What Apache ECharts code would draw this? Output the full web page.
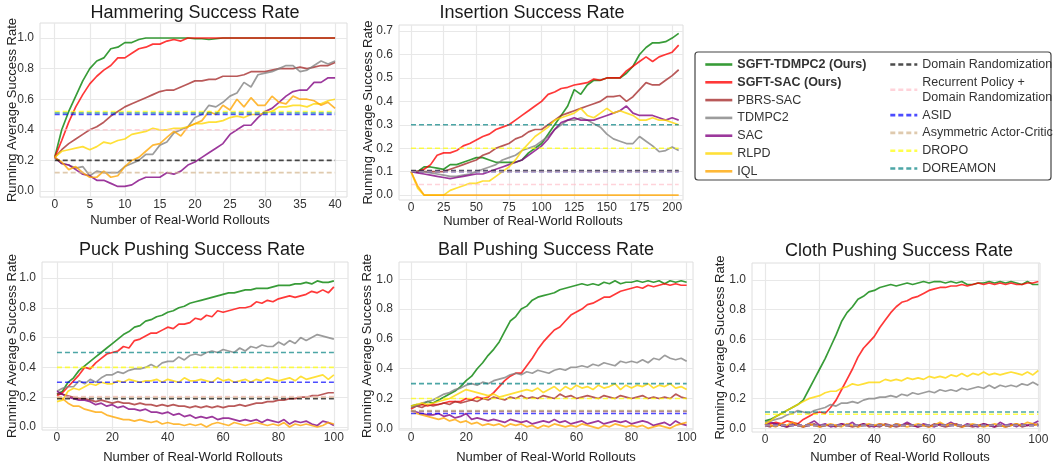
<!DOCTYPE html>
<html>
<head>
<meta charset="utf-8">
<script src="https://cdn.jsdelivr.net/npm/echarts@6/dist/echarts.min.js"></script>
<style>
html, body { margin: 0; padding: 0; background: #fff; }
#main { width: 1053px; height: 465px; }
</style>
</head>
<body>
<div id="main"></div>
<script>
// legend names
const methods = ['SGFT-TDMPC2 (Ours)', 'SGFT-SAC (Ours)', 'PBRS-SAC', 'TDMPC2', 'SAC', 'RLPD', 'IQL']
const baselines = ['Domain Randomization', 'Recurrent Policy + Domain Randomization', 'ASID', 'Asymmetric Actor-Critic', 'DROPO', 'DOREAMON']
const methodColors = ['#008000', '#ff0000', '#a52a2a', '#808080', '#800080', '#ffd700', '#ffa500']
const baseColors = ['#000000', '#ffc0cb', '#0000ff', '#d2b48c', '#ffff00', '#008080']

// tick labels
const hamXTicks = [0, 5, 10, 15, 20, 25, 30, 35, 40]
const insXTicks = [0, 25, 50, 75, 100, 125, 150, 175, 200]
const pushXTicks = [0, 20, 40, 60, 80, 100]
const rateTicks = [0, 0.2, 0.4, 0.6, 0.8, 1.0]
const insYTicks = [0, 0.1, 0.2, 0.3, 0.4, 0.5, 0.6, 0.7]

// ---- Hammering ----
const hamX = [0, 1, 2, 3, 4, 5, 6, 7, 8, 9, 10, 11, 12, 13, 14, 15, 16, 17, 18, 19, 20,
  21, 22, 23, 24, 25, 26, 27, 28, 29, 30, 31, 32, 33, 34, 35, 36, 37, 38, 39, 40]
const hamTdmpcOurs = [0.22, 0.40, 0.52, 0.62, 0.72, 0.80, 0.85, 0.87, 0.93, 0.94,
  0.97, 0.97, 0.99, 1.0, 1.0, 1.0, 1.0, 1.0, 1.0, 1.0,
  0.995, 0.995, 0.99, 0.995, 1.0, 1.0, 1.0, 1.0, 1.0, 1.0,
  1.0, 1.0, 1.0, 1.0, 1.0, 1.0, 1.0, 1.0, 1.0, 1.0, 1.0]
const hamSacOurs = [0.22, 0.33, 0.45, 0.55, 0.63, 0.70, 0.75, 0.79, 0.82, 0.87,
  0.87, 0.90, 0.93, 0.94, 0.96, 0.96, 0.98, 0.99, 0.98, 1.0,
  1.0, 1.0, 1.0, 1.0, 1.0, 1.0, 1.0, 1.0, 1.0, 1.0,
  1.0, 1.0, 1.0, 1.0, 1.0, 1.0, 1.0, 1.0, 1.0, 1.0, 1.0]
const hamPbrs = [0.22, 0.27, 0.31, 0.34, 0.37, 0.40, 0.42, 0.45, 0.49, 0.52,
  0.55, 0.57, 0.59, 0.61, 0.63, 0.65, 0.66, 0.66, 0.68, 0.70,
  0.72, 0.72, 0.73, 0.73, 0.75, 0.75, 0.75, 0.76, 0.78, 0.78,
  0.78, 0.79, 0.80, 0.80, 0.80, 0.81, 0.80, 0.81, 0.82, 0.82, 0.84]
const hamTdmpc2 = [0.22, 0.18, 0.17, 0.15, 0.16, 0.10, 0.13, 0.12, 0.12, 0.12,
  0.16, 0.18, 0.20, 0.24, 0.24, 0.30, 0.32, 0.38, 0.40, 0.42,
  0.48, 0.50, 0.56, 0.55, 0.58, 0.62, 0.64, 0.71, 0.68, 0.76,
  0.77, 0.78, 0.80, 0.82, 0.82, 0.78, 0.79, 0.82, 0.85, 0.83, 0.85]
const hamSac = [0.22, 0.18, 0.17, 0.14, 0.11, 0.10, 0.07, 0.07, 0.05, 0.03,
  0.03, 0.04, 0.07, 0.09, 0.09, 0.09, 0.12, 0.11, 0.13, 0.17,
  0.19, 0.22, 0.25, 0.28, 0.31, 0.37, 0.40, 0.43, 0.43, 0.48,
  0.52, 0.54, 0.58, 0.62, 0.65, 0.66, 0.66, 0.71, 0.71, 0.74, 0.74]
const hamRlpd = [0.22, 0.26, 0.27, 0.28, 0.29, 0.27, 0.29, 0.32, 0.31, 0.33,
  0.34, 0.37, 0.38, 0.39, 0.41, 0.40, 0.40, 0.41, 0.41, 0.42,
  0.44, 0.44, 0.45, 0.45, 0.46, 0.48, 0.49, 0.48, 0.50, 0.50,
  0.51, 0.52, 0.55, 0.55, 0.56, 0.56, 0.55, 0.57, 0.57, 0.59, 0.60]
const hamIql = [0.22, 0.19, 0.14, 0.16, 0.12, 0.09, 0.09, 0.13, 0.09, 0.10,
  0.16, 0.20, 0.22, 0.26, 0.30, 0.31, 0.35, 0.39, 0.36, 0.42,
  0.44, 0.46, 0.52, 0.50, 0.56, 0.53, 0.60, 0.55, 0.61, 0.56,
  0.56, 0.62, 0.58, 0.57, 0.62, 0.60, 0.60, 0.59, 0.56, 0.58, 0.54]
const hamBase = [0.2, 0.4, 0.5, 0.12, 0.52, 0.51]

// ---- Insertion ----
const insX = [0, 5, 10, 15, 20, 25, 30, 35, 40, 45, 50, 55, 60, 65, 70, 75, 80, 85, 90, 95,
  100, 105, 110, 115, 120, 125, 130, 135, 140, 145, 150, 155, 160, 165, 170, 175, 180, 185, 190, 195, 200, 205]
const insTdmpcOurs = [0.10, 0.10, 0.12, 0.12, 0.115, 0.11, 0.13, 0.13, 0.14, 0.15,
  0.16, 0.16, 0.15, 0.14, 0.14, 0.14, 0.14, 0.15, 0.18, 0.20,
  0.22, 0.26, 0.30, 0.34, 0.38, 0.45, 0.43, 0.47, 0.49, 0.49,
  0.50, 0.50, 0.50, 0.52, 0.55, 0.60, 0.63, 0.65, 0.65, 0.655, 0.67, 0.69]
const insSacOurs = [0.10, 0.10, 0.11, 0.13, 0.17, 0.18, 0.18, 0.19, 0.21, 0.22,
  0.235, 0.25, 0.26, 0.28, 0.29, 0.30, 0.32, 0.34, 0.36, 0.38,
  0.40, 0.43, 0.44, 0.455, 0.46, 0.47, 0.475, 0.48, 0.495, 0.49,
  0.50, 0.50, 0.50, 0.53, 0.55, 0.57, 0.59, 0.57, 0.59, 0.60, 0.61, 0.64]
const insPbrs = [0.10, 0.10, 0.10, 0.10, 0.10, 0.10, 0.11, 0.12, 0.13, 0.14,
  0.15, 0.17, 0.18, 0.20, 0.21, 0.22, 0.24, 0.25, 0.27, 0.28,
  0.28, 0.30, 0.32, 0.34, 0.35, 0.36, 0.37, 0.38, 0.39, 0.40,
  0.42, 0.42, 0.425, 0.40, 0.42, 0.45, 0.48, 0.47, 0.47, 0.49, 0.51, 0.535]
const insTdmpc2 = [0.10, 0.10, 0.10, 0.095, 0.09, 0.085, 0.08, 0.08, 0.085, 0.09,
  0.10, 0.11, 0.12, 0.13, 0.15, 0.16, 0.17, 0.19, 0.20, 0.21,
  0.23, 0.25, 0.28, 0.30, 0.32, 0.32, 0.33, 0.32, 0.305, 0.29,
  0.26, 0.24, 0.23, 0.22, 0.22, 0.25, 0.23, 0.21, 0.185, 0.19, 0.205, 0.19]
const insSac = [0.10, 0.095, 0.09, 0.085, 0.08, 0.075, 0.07, 0.075, 0.08, 0.085,
  0.09, 0.09, 0.10, 0.11, 0.12, 0.13, 0.14, 0.15, 0.17, 0.19,
  0.21, 0.24, 0.28, 0.31, 0.32, 0.33, 0.32, 0.32, 0.32, 0.33,
  0.34, 0.35, 0.36, 0.38, 0.35, 0.34, 0.34, 0.34, 0.33, 0.32, 0.33, 0.32]
const insRlpd = [0.10, 0.03, 0, 0, 0, 0, 0.02, 0.03, 0.04, 0.05,
  0.05, 0.06, 0.06, 0.08, 0.10, 0.12, 0.15, 0.19, 0.22, 0.25,
  0.27, 0.29, 0.32, 0.33, 0.34, 0.35, 0.37, 0.34, 0.33, 0.35,
  0.37, 0.35, 0.36, 0.35, 0.34, 0.32, 0.32, 0.33, 0.32, 0.32, 0.31, 0.30]
const insIql = [0.10, 0.04, 0, 0, 0, 0, 0, 0, 0, 0,
  0, 0, 0, 0, 0, 0, 0, 0, 0, 0,
  0, 0, 0, 0, 0, 0, 0, 0, 0, 0,
  0, 0, 0, 0, 0, 0, 0, 0, 0, 0, 0, 0]
const insBase = [0.105, 0.045, 0.10, 0.10, 0.20, 0.30]

// ---- Puck / Ball / Cloth share the rollout grid ----
const pushX = [0, 2, 4, 6, 8, 10, 12, 14, 16, 18, 20, 22, 24, 26, 28, 30, 32, 34, 36, 38, 40,
  42, 44, 46, 48, 50, 52, 54, 56, 58, 60, 62, 64, 66, 68, 70, 72, 74, 76, 78, 80,
  82, 84, 86, 88, 90, 92, 94, 96, 98, 100]

const puckTdmpcOurs = [0.22, 0.24, 0.30, 0.33, 0.38, 0.41, 0.44, 0.47, 0.50, 0.53,
  0.56, 0.59, 0.62, 0.64, 0.67, 0.68, 0.71, 0.72, 0.74, 0.75,
  0.77, 0.78, 0.80, 0.81, 0.83, 0.84, 0.85, 0.86, 0.87, 0.88,
  0.89, 0.90, 0.90, 0.91, 0.92, 0.92, 0.93, 0.93, 0.93, 0.94,
  0.95, 0.95, 0.95, 0.96, 0.96, 0.97, 0.96, 0.98, 0.97, 0.97, 0.98]
const puckSacOurs = [0.21, 0.23, 0.27, 0.31, 0.35, 0.40, 0.39, 0.43, 0.46, 0.49,
  0.50, 0.51, 0.54, 0.53, 0.58, 0.59, 0.61, 0.63, 0.63, 0.65,
  0.67, 0.66, 0.69, 0.69, 0.70, 0.73, 0.72, 0.75, 0.74, 0.78,
  0.77, 0.78, 0.79, 0.80, 0.80, 0.81, 0.84, 0.83, 0.85, 0.84,
  0.86, 0.87, 0.88, 0.87, 0.88, 0.89, 0.91, 0.90, 0.92, 0.90, 0.94]
const puckPbrs = [0.22, 0.22, 0.21, 0.20, 0.19, 0.19, 0.18, 0.17, 0.18, 0.17,
  0.16, 0.17, 0.16, 0.16, 0.15, 0.16, 0.15, 0.15, 0.14, 0.15,
  0.14, 0.15, 0.14, 0.14, 0.13, 0.14, 0.13, 0.14, 0.13, 0.14,
  0.13, 0.14, 0.14, 0.15, 0.14, 0.15, 0.16, 0.16, 0.17, 0.17,
  0.18, 0.18, 0.19, 0.19, 0.20, 0.20, 0.21, 0.21, 0.22, 0.23, 0.23]
const puckTdmpc2 = [0.24, 0.26, 0.27, 0.27, 0.31, 0.29, 0.32, 0.30, 0.33, 0.35,
  0.35, 0.37, 0.36, 0.38, 0.39, 0.39, 0.40, 0.42, 0.40, 0.43,
  0.44, 0.44, 0.47, 0.45, 0.48, 0.49, 0.48, 0.50, 0.51, 0.50,
  0.52, 0.51, 0.50, 0.53, 0.51, 0.54, 0.53, 0.55, 0.54, 0.54,
  0.57, 0.55, 0.58, 0.56, 0.60, 0.58, 0.60, 0.62, 0.61, 0.60, 0.59]
const puckSac = [0.24, 0.22, 0.20, 0.19, 0.18, 0.18, 0.17, 0.15, 0.16, 0.14,
  0.15, 0.13, 0.14, 0.12, 0.12, 0.11, 0.12, 0.10, 0.10, 0.09,
  0.10, 0.08, 0.09, 0.07, 0.08, 0.06, 0.07, 0.06, 0.07, 0.05,
  0.06, 0.06, 0.05, 0.04, 0.05, 0.04, 0.05, 0.03, 0.05, 0.04,
  0.03, 0.05, 0.02, 0.04, 0.03, 0.04, 0.02, 0.01, 0.04, 0.03, 0.01]
const puckRlpd = [0.17, 0.18, 0.24, 0.26, 0.25, 0.27, 0.29, 0.28, 0.30, 0.29,
  0.29, 0.31, 0.30, 0.32, 0.31, 0.30, 0.31, 0.31, 0.32, 0.30,
  0.32, 0.31, 0.30, 0.33, 0.31, 0.31, 0.32, 0.31, 0.30, 0.33,
  0.31, 0.32, 0.30, 0.31, 0.32, 0.30, 0.32, 0.31, 0.33, 0.32,
  0.31, 0.32, 0.33, 0.31, 0.34, 0.32, 0.33, 0.34, 0.35, 0.32, 0.35]
const puckIql = [0.20, 0.19, 0.16, 0.14, 0.14, 0.12, 0.11, 0.10, 0.10, 0.08,
  0.07, 0.06, 0.05, 0.05, 0.04, 0.05, 0.04, 0.03, 0.04, 0.02,
  0.03, 0.02, 0.02, 0.01, 0.02, 0.01, 0.02, 0.00, 0.02, 0.03,
  0.02, 0.01, 0.03, 0.02, 0.01, 0.02, 0.03, 0.02, 0.01, 0.02,
  0.01, 0.03, 0.00, 0.02, 0.01, 0.02, 0.01, 0.00, 0.01, 0.03, 0.02]
const puckBase = [0.19, 0.205, 0.30, 0.20, 0.40, 0.50]

const ballTdmpcOurs = [0.15, 0.16, 0.16, 0.18, 0.17, 0.19, 0.21, 0.23, 0.25, 0.28,
  0.32, 0.35, 0.40, 0.44, 0.49, 0.53, 0.58, 0.65, 0.72, 0.75,
  0.80, 0.82, 0.86, 0.88, 0.89, 0.90, 0.91, 0.93, 0.94, 0.95,
  0.96, 0.97, 0.96, 0.97, 0.96, 0.98, 0.97, 0.99, 0.97, 0.98,
  0.98, 0.99, 0.98, 0.99, 0.98, 0.99, 0.97, 0.99, 0.98, 0.99, 0.98]
const ballSacOurs = [0.13, 0.15, 0.16, 0.15, 0.16, 0.16, 0.17, 0.18, 0.18, 0.18,
  0.20, 0.19, 0.21, 0.20, 0.21, 0.24, 0.28, 0.32, 0.35, 0.37,
  0.37, 0.42, 0.47, 0.53, 0.58, 0.62, 0.66, 0.68, 0.72, 0.76,
  0.78, 0.80, 0.83, 0.84, 0.86, 0.88, 0.88, 0.90, 0.92, 0.93,
  0.94, 0.95, 0.94, 0.96, 0.95, 0.96, 0.97, 0.96, 0.97, 0.96, 0.96]
const ballPbrs = [0.14, 0.15, 0.14, 0.16, 0.15, 0.16, 0.17, 0.16, 0.18, 0.17,
  0.18, 0.19, 0.18, 0.20, 0.19, 0.21, 0.20, 0.19, 0.21, 0.20,
  0.22, 0.20, 0.21, 0.20, 0.22, 0.21, 0.20, 0.23, 0.21, 0.22,
  0.20, 0.21, 0.22, 0.21, 0.20, 0.22, 0.21, 0.20, 0.22, 0.21,
  0.20, 0.21, 0.22, 0.20, 0.21, 0.20, 0.21, 0.20, 0.23, 0.21, 0.20]
const ballTdmpc2 = [0.14, 0.15, 0.17, 0.18, 0.19, 0.21, 0.23, 0.24, 0.26, 0.27,
  0.29, 0.30, 0.29, 0.31, 0.30, 0.32, 0.33, 0.34, 0.36, 0.37,
  0.36, 0.38, 0.37, 0.39, 0.38, 0.37, 0.39, 0.40, 0.39, 0.41,
  0.41, 0.42, 0.41, 0.43, 0.42, 0.44, 0.43, 0.42, 0.45, 0.44,
  0.45, 0.44, 0.46, 0.44, 0.47, 0.46, 0.49, 0.47, 0.46, 0.47, 0.45]
const ballSac = [0.12, 0.11, 0.10, 0.09, 0.09, 0.10, 0.08, 0.09, 0.07, 0.08,
  0.10, 0.06, 0.07, 0.06, 0.05, 0.06, 0.05, 0.04, 0.06, 0.05,
  0.04, 0.05, 0.03, 0.04, 0.05, 0.04, 0.06, 0.04, 0.05, 0.03,
  0.04, 0.05, 0.03, 0.04, 0.05, 0.03, 0.04, 0.05, 0.04, 0.05,
  0.03, 0.04, 0.05, 0.04, 0.02, 0.03, 0.04, 0.02, 0.05, 0.03, 0.02]
const ballRlpd = [0.15, 0.16, 0.17, 0.16, 0.17, 0.18, 0.19, 0.20, 0.22, 0.24,
  0.26, 0.25, 0.24, 0.23, 0.22, 0.23, 0.21, 0.22, 0.23, 0.24,
  0.25, 0.26, 0.25, 0.27, 0.24, 0.26, 0.28, 0.25, 0.28, 0.26,
  0.29, 0.27, 0.28, 0.26, 0.29, 0.27, 0.28, 0.30, 0.26, 0.29,
  0.27, 0.29, 0.28, 0.30, 0.27, 0.29, 0.28, 0.30, 0.27, 0.28, 0.26]
const ballIql = [0.12, 0.10, 0.09, 0.08, 0.07, 0.06, 0.07, 0.05, 0.06, 0.04,
  0.05, 0.03, 0.04, 0.02, 0.03, 0.02, 0.03, 0.01, 0.03, 0.02,
  0.03, 0.01, 0.02, 0.00, 0.02, 0.01, 0.03, 0.02, 0.01, 0.02,
  0.01, 0.03, 0.02, 0.01, 0.00, 0.02, 0.01, 0.03, 0.02, 0.01,
  0.02, 0.01, 0.02, 0.00, 0.01, 0.02, 0.01, 0.00, 0.02, 0.03, 0.04]
const ballBase = [0.115, 0.11, 0.10, 0.12, 0.20, 0.30]

const clothTdmpcOurs = [0.05, 0.06, 0.08, 0.10, 0.12, 0.14, 0.16, 0.19, 0.26, 0.33,
  0.40, 0.47, 0.55, 0.63, 0.72, 0.78, 0.82, 0.87, 0.89, 0.92,
  0.93, 0.95, 0.96, 0.97, 0.96, 0.97, 0.98, 0.97, 0.98, 0.99,
  0.98, 0.99, 0.99, 0.98, 0.99, 0.98, 0.99, 0.97, 0.97, 0.98,
  0.98, 0.99, 0.98, 0.99, 0.98, 0.99, 0.98, 0.97, 0.99, 0.97, 0.97]
const clothSacOurs = [0.02, 0.03, 0.04, 0.03, 0.05, 0.04, 0.03, 0.06, 0.08, 0.10,
  0.11, 0.10, 0.14, 0.19, 0.26, 0.33, 0.40, 0.48, 0.54, 0.58,
  0.62, 0.68, 0.73, 0.78, 0.82, 0.85, 0.86, 0.88, 0.89, 0.91,
  0.93, 0.94, 0.95, 0.95, 0.96, 0.96, 0.97, 0.96, 0.97, 0.98,
  0.97, 0.98, 0.97, 0.98, 0.97, 0.98, 0.97, 0.97, 0.98, 0.98, 0.99]
const clothPbrs = [0.02, 0.01, 0.03, 0.02, 0.01, 0.02, 0.03, 0.01, 0.02, 0.03,
  0.01, 0.02, 0.02, 0.01, 0.03, 0.02, 0.01, 0.02, 0.03, 0.01,
  0.02, 0.01, 0.03, 0.02, 0.01, 0.02, 0.03, 0.02, 0.01, 0.02,
  0.01, 0.03, 0.02, 0.01, 0.02, 0.03, 0.01, 0.02, 0.01, 0.02,
  0.03, 0.02, 0.01, 0.02, 0.01, 0.02, 0.03, 0.01, 0.02, 0.02, 0.03]
const clothTdmpc2 = [0.04, 0.05, 0.06, 0.07, 0.09, 0.10, 0.12, 0.11, 0.10, 0.12,
  0.13, 0.14, 0.16, 0.15, 0.17, 0.17, 0.18, 0.17, 0.19, 0.20,
  0.20, 0.21, 0.21, 0.22, 0.21, 0.23, 0.22, 0.24, 0.23, 0.24,
  0.25, 0.24, 0.26, 0.25, 0.26, 0.25, 0.27, 0.26, 0.27, 0.28,
  0.27, 0.29, 0.27, 0.29, 0.28, 0.29, 0.28, 0.30, 0.29, 0.31, 0.29]
const clothSac = [0.02, 0.04, 0.03, 0.02, 0.01, 0.03, 0.02, 0.01, 0.03, 0.05,
  0.02, 0.03, 0.01, 0.02, 0.03, 0.02, 0.04, 0.01, 0.03, 0.02,
  0.01, 0.03, 0.02, 0.01, 0.03, 0.02, 0.04, 0.02, 0.01, 0.03,
  0.02, 0.01, 0.03, 0.02, 0.04, 0.02, 0.01, 0.03, 0.02, 0.01,
  0.03, 0.02, 0.01, 0.04, 0.02, 0.03, 0.01, 0.03, 0.02, 0.03, 0.05]
const clothRlpd = [0.03, 0.05, 0.08, 0.10, 0.12, 0.14, 0.16, 0.18, 0.20, 0.21,
  0.22, 0.24, 0.25, 0.25, 0.27, 0.28, 0.30, 0.29, 0.30, 0.31,
  0.31, 0.31, 0.33, 0.32, 0.33, 0.32, 0.34, 0.33, 0.34, 0.33,
  0.35, 0.34, 0.35, 0.34, 0.36, 0.35, 0.37, 0.35, 0.37, 0.36,
  0.38, 0.36, 0.37, 0.36, 0.37, 0.38, 0.37, 0.36, 0.38, 0.36, 0.39]
const clothIql = [0.03, 0.02, 0.01, 0.03, 0.02, 0.04, 0.02, 0.01, 0.03, 0.02,
  0.01, 0.02, 0.03, 0.02, 0.01, 0.03, 0.02, 0.01, 0.02, 0.03,
  0.02, 0.03, 0.02, 0.01, 0.03, 0.02, 0.01, 0.02, 0.03, 0.02,
  0.01, 0.02, 0.04, 0.02, 0.03, 0.02, 0.01, 0.02, 0.03, 0.02,
  0.01, 0.02, 0.03, 0.02, 0.01, 0.02, 0.03, 0.02, 0.04, 0.03, 0.02]
const clothBase = [0.02, 0.02, 0.02, 0.02, 0.095, 0.11]

const FONT = 'Liberation Sans, Arial, sans-serif'
const XNAME = 'Number of Real-World Rollouts'
const YNAME = 'Running Average Success Rate'

const plots = [
  { title: 'Hammering Success Rate', x: hamX, lines: [hamTdmpcOurs, hamSacOurs, hamPbrs, hamTdmpc2, hamSac, hamRlpd, hamIql],
    base: hamBase, xTicks: hamXTicks, yTicks: rateTicks, xr: [-2.1, 41.7], yr: [-0.039, 1.098],
    grid: { left: 40, top: 23, width: 307, height: 174 }, titlePos: [195, 13], xNamePos: [180, 220], yGap: 21 },
  { title: 'Insertion Success Rate', x: insX, lines: [insTdmpcOurs, insSacOurs, insPbrs, insTdmpc2, insSac, insRlpd, insIql],
    base: insBase, xTicks: insXTicks, yTicks: insYTicks, xr: [-9.2, 208.3], yr: [-0.021, 0.726],
    grid: { left: 399, top: 25, width: 284, height: 175 }, titlePos: [532, 13], xNamePos: [533, 221], yGap: 24 },
  { title: 'Puck Pushing Success Rate', x: pushX, lines: [puckTdmpcOurs, puckSacOurs, puckPbrs, puckTdmpc2, puckSac, puckRlpd, puckIql],
    base: puckBase, xTicks: pushXTicks, yTicks: rateTicks, xr: [-5.4, 105.1], yr: [-0.02, 1.107],
    grid: { left: 42, top: 262, width: 306, height: 168 }, titlePos: [192, 250], xNamePos: [193, 457], yGap: 23 },
  { title: 'Ball Pushing Success Rate', x: pushX, lines: [ballTdmpcOurs, ballSacOurs, ballPbrs, ballTdmpc2, ballSac, ballRlpd, ballIql],
    base: ballBase, xTicks: pushXTicks, yTicks: rateTicks, xr: [-4.35, 102.3], yr: [-0.011, 1.116],
    grid: { left: 399, top: 262, width: 294, height: 168 }, titlePos: [546, 250], xNamePos: [546, 457], yGap: 25 },
  { title: 'Cloth Pushing Success Rate', x: pushX, lines: [clothTdmpcOurs, clothSacOurs, clothPbrs, clothTdmpc2, clothSac, clothRlpd, clothIql],
    base: clothBase, xTicks: pushXTicks, yTicks: rateTicks, xr: [-4.76, 100.6], yr: [-0.025, 1.115],
    grid: { left: 752, top: 263, width: 288, height: 169 }, titlePos: [899, 251], xNamePos: [900, 457], yGap: 25 }
]

const chart = echarts.init(document.getElementById('main'), null, { renderer: 'canvas' })

const grids = [], xAxes = [], yAxes = [], series = [], graphics = []
plots.forEach((p, i) => {
  grids.push(Object.assign({ show: true, borderColor: '#dedede', borderWidth: 1, backgroundColor: '#fff' }, p.grid))
  graphics.push({
    type: 'text', x: p.titlePos[0], y: p.titlePos[1],
    style: { text: p.title, fontSize: 18, fontFamily: FONT, fill: '#1a1a1a', textAlign: 'center', textVerticalAlign: 'middle' }
  })
  graphics.push({
    type: 'text', x: p.xNamePos[0], y: p.xNamePos[1],
    style: { text: XNAME, fontSize: 13, fontFamily: FONT, fill: '#222', textAlign: 'center', textVerticalAlign: 'middle' }
  })
  xAxes.push({
    type: 'value', gridIndex: i, min: p.xr[0], max: p.xr[1],
    axisLine: { show: false }, axisTick: { show: false, customValues: p.xTicks },
    axisLabel: { customValues: p.xTicks, fontSize: 12, fontFamily: FONT, color: '#333', margin: 2 },
    splitLine: { show: true, lineStyle: { color: '#e8e8e8', width: 1.2 } }
  })
  yAxes.push({
    type: 'value', gridIndex: i, min: p.yr[0], max: p.yr[1],
    name: YNAME, nameLocation: 'middle', nameGap: p.yGap, nameMoveOverlap: false,
    nameTextStyle: { fontSize: 13, fontFamily: FONT, color: '#222' },
    axisLine: { show: false }, axisTick: { show: false, customValues: p.yTicks },
    axisLabel: { customValues: p.yTicks, fontSize: 12, fontFamily: FONT, color: '#333', margin: 6,
      formatter: v => v.toFixed(1) },
    splitLine: { show: true, lineStyle: { color: '#e8e8e8', width: 1.2 } }
  })
  p.lines.forEach((ys, k) => {
    series.push({
      type: 'line', name: methods[k], xAxisIndex: i, yAxisIndex: i,
      data: p.x.map((xv, j) => [xv, ys[j]]),
      symbol: 'none', showSymbol: false, silent: true, z: 2,
      lineStyle: { color: methodColors[k], width: 1.7, opacity: 0.78 },
      itemStyle: { color: methodColors[k], opacity: 0.78 }
    })
  })
  const x0 = p.x[0], x1 = p.x[p.x.length - 1]
  p.base.forEach((v, k) => {
    series.push({
      type: 'line', name: baselines[k], xAxisIndex: i, yAxisIndex: i,
      data: [[x0, v], [x1, v]],
      symbol: 'none', showSymbol: false, silent: true, z: 3,
      lineStyle: { color: baseColors[k], width: 1.6, type: [5, 3], opacity: 0.7 },
      itemStyle: { color: baseColors[k], opacity: 0.7 }
    })
  })
})

// legend frame
graphics.push({
  type: 'rect', shape: { x: 695, y: 52, width: 356, height: 128, r: 3 },
  style: { fill: '#fff', stroke: '#444', lineWidth: 1.2 }, z: -1
})

const legendCommon = {
  orient: 'vertical', itemWidth: 27, itemHeight: 14, itemGap: 2.8,
  textStyle: { fontSize: 12.5, fontFamily: FONT, color: '#333', lineHeight: 15 },
  itemStyle: { opacity: 0 },
  lineStyle: { width: 2.6 }, selectedMode: false
}

const option = {
  animation: false,
  backgroundColor: '#fff',
  grid: grids,
  xAxis: xAxes,
  yAxis: yAxes,
  legend: [
    Object.assign({}, legendCommon, {
      left: 699, top: 52,
      data: methods.map((m, k) => k < 2 ? { name: m, textStyle: { fontWeight: 'bold' } } : m)
    }),
    Object.assign({}, legendCommon, {
      left: 884, top: 52,
      data: baselines,
      formatter: name => name.replace(' + ', ' +\n')
    })
  ],
  graphic: graphics,
  series: series
}
chart.setOption(option)
</script>
</body>
</html>
